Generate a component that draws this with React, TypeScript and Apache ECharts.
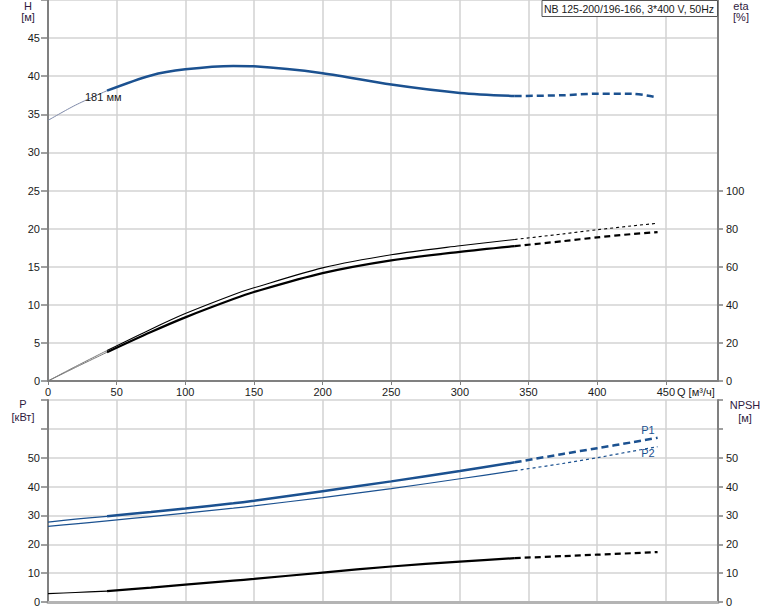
import React, { useEffect, useRef } from "react";
import * as echarts from "echarts";

// Flow points (m³/h)
const Q = [0, 20, 43, 75, 100, 135, 150, 200, 250, 300, 340, 375, 400, 425, 444];
// Head H [m]
const H = [34.2, 36.2, 38.1, 40.1, 40.9, 41.35, 41.3, 40.4, 38.9, 37.8, 37.4, 37.5, 37.7, 37.7, 37.2];
// Efficiency curves [%]
const ETA_UPPER = [0, 7.6, 16.0, 27.2, 35.4, 45.3, 48.9, 59.4, 66.3, 71.0, 74.3, 77.2, 79.4, 81.4, 82.8];
const ETA_LOWER = [0, 7.1, 15.1, 25.7, 33.4, 43.0, 46.7, 56.6, 63.3, 67.8, 70.8, 73.4, 75.4, 77.1, 78.2];
// Power [kW]
const P1 = [27.7, 28.7, 29.7, 31.2, 32.4, 34.2, 35.1, 38.4, 41.8, 45.4, 48.4, 51.3, 53.3, 55.3, 56.9];
const P2 = [26.2, 27.1, 28.1, 29.6, 30.8, 32.5, 33.3, 36.2, 39.3, 42.7, 45.5, 48.0, 50.0, 52.2, 53.8];
// NPSH [m]
const NPSH = [2.9, 3.3, 3.8, 5.0, 6.0, 7.4, 8.0, 10.2, 12.3, 14.0, 15.2, 15.9, 16.4, 16.9, 17.3];

const Q_TICKS = [0, 50, 100, 150, 200, 250, 300, 350, 400, 450];
const ETA_TICKS = [0, 20, 40, 60, 80, 100];
const TITLE = "NB 125-200/196-166, 3*400 V, 50Hz";
const RANGE_START = 43;
const RANGE_END = 340;

const FONT = '"Liberation Sans", Arial, sans-serif';
const BLUE = "#1b5190";

function seg(vals: number[], from: number, to: number) {
  const out: number[][] = [];
  for (let i = 0; i < Q.length; i++) {
    if (Q[i] >= from && Q[i] <= to) out.push([Q[i], vals[i]]);
  }
  return out;
}

function curve(
  name: string,
  vals: number[],
  xAxisIndex: number,
  yAxisIndex: number,
  color: string,
  width: number,
  dash: number[],
  thinColor: string,
  thinWidth: number
) {
  const base = {
    type: "line",
    xAxisIndex,
    yAxisIndex,
    showSymbol: false,
    symbol: "none",
    smooth: 0.3,
    silent: true,
    z: 5,
  };
  return [
    { ...base, name: name + "-start", data: seg(vals, 0, RANGE_START), lineStyle: { color: thinColor, width: thinWidth } },
    { ...base, name, data: seg(vals, RANGE_START, RANGE_END), lineStyle: { color, width } },
    { ...base, name: name + "-ext", data: seg(vals, RANGE_END, 1000), lineStyle: { color, width, type: dash } },
  ];
}

export default function App() {
  const ref = useRef<HTMLDivElement>(null);
  useEffect(() => {
    if (!ref.current) return;
    const chart = echarts.init(ref.current, null, { renderer: "svg" });
    const tickLabel = { color: "#1a1a1a", fontSize: 11, fontFamily: FONT };
    const gridLineH = { show: true, lineStyle: { color: "#dedede", width: 2 } };
    const gridLineV = { show: true, lineStyle: { color: "#d2d2d2", width: 1.5 } };
    const axisLine = { show: true, lineStyle: { color: "#808080", width: 2 } };
    const nameStyle = (text: string, x: number, y: number) => ({
      type: "text",
      x,
      y,
      style: { text, font: "11px " + FONT, fill: "#301a40", align: "center", verticalAlign: "middle" },
    });

    chart.setOption({
      animation: false,
      grid: [
        { left: 48, top: 0, width: 670, height: 381, show: true, borderColor: "#999", borderWidth: 1, backgroundColor: "transparent" },
        { left: 48, top: 400, width: 670, height: 202, show: true, borderColor: "#999", borderWidth: 1, backgroundColor: "transparent" },
      ],
      xAxis: [
        {
          type: "value",
          gridIndex: 0,
          min: 0,
          max: 488,
          interval: 50,
          axisLine,
          axisTick: { show: true, length: 4, lineStyle: { color: "#808080" }, customValues: Q_TICKS },
          axisLabel: {
            ...tickLabel,
            margin: 5,
            customValues: Q_TICKS,
            formatter: (v: number) => (Q_TICKS.indexOf(v) >= 0 ? String(v) : ""),
          },
          splitLine: gridLineV,
        },
        {
          type: "value",
          gridIndex: 1,
          min: 0,
          max: 488,
          interval: 50,
          axisLine: { show: true, lineStyle: { color: "#b4b4b4", width: 3 } },
          axisTick: { show: false },
          axisLabel: { show: false },
          splitLine: gridLineV,
        },
      ],
      yAxis: [
        {
          type: "value",
          gridIndex: 0,
          min: 0,
          max: 50,
          interval: 5,
          axisLine,
          axisTick: { show: true, length: 7, lineStyle: { color: "#808080", width: 1.5 } },
          axisLabel: { ...tickLabel, margin: 8, formatter: (v: number) => (v < 50 ? String(v) : "") },
          splitLine: gridLineH,
        },
        {
          type: "value",
          gridIndex: 0,
          position: "right",
          min: 0,
          max: 200,
          interval: 20,
          axisLine: { show: true, lineStyle: { color: "#808080", width: 2 } },
          axisTick: { show: true, length: 5, lineStyle: { color: "#808080", width: 1.5 }, customValues: ETA_TICKS },
          axisLabel: {
            ...tickLabel,
            margin: 8,
            customValues: ETA_TICKS,
            formatter: (v: number) => (v <= 100 ? String(v) : ""),
          },
          splitLine: { show: false },
        },
        {
          type: "value",
          gridIndex: 1,
          min: 0,
          max: 70,
          interval: 10,
          axisLine,
          axisTick: { show: true, length: 7, lineStyle: { color: "#808080", width: 1.5 } },
          axisLabel: { ...tickLabel, margin: 8, formatter: (v: number) => (v <= 50 ? String(v) : "") },
          splitLine: gridLineH,
        },
        {
          type: "value",
          gridIndex: 1,
          position: "right",
          min: 0,
          max: 70,
          interval: 10,
          axisLine: { show: true, lineStyle: { color: "#808080", width: 2 } },
          axisTick: { show: true, length: 5, lineStyle: { color: "#808080", width: 1.5 } },
          axisLabel: { ...tickLabel, margin: 8, formatter: (v: number) => (v <= 50 ? String(v) : "") },
          splitLine: { show: false },
        },
      ],
      series: [
        ...curve("H", H, 0, 0, BLUE, 2.5, [7, 4], "#7d88a8", 1),
        ...curve("eta1", ETA_UPPER, 0, 1, "#000", 1.1, [3, 3], "#777", 1),
        ...curve("eta2", ETA_LOWER, 0, 1, "#000", 2.2, [6, 4], "#777", 1),
        ...curve("P1", P1, 1, 2, BLUE, 2.5, [7, 4], BLUE, 1.3),
        ...curve("P2", P2, 1, 2, BLUE, 1.2, [3, 3], BLUE, 1.2),
        ...curve("NPSH", NPSH, 1, 3, "#000", 2.2, [6, 4], "#000", 1.2),
      ],
      graphic: [
        {
          type: "rect",
          shape: { x: 542, y: 0.5, width: 175.5, height: 16 },
          style: { fill: "#fff", stroke: "#555", lineWidth: 1 },
          z: 100,
        },
        {
          type: "text",
          x: 714,
          y: 9,
          z: 101,
          style: { text: TITLE, font: "10.5px " + FONT, fill: "#1a1a1a", align: "right", verticalAlign: "middle" },
        },
        nameStyle("H", 28, 6),
        nameStyle("[м]", 28, 17),
        nameStyle("eta", 741, 6),
        nameStyle("[%]", 741, 17),
        nameStyle("P", 23, 404),
        nameStyle("[кВт]", 23, 417),
        nameStyle("NPSH", 745, 405),
        nameStyle("[м]", 745, 418),
        {
          type: "text",
          x: 677,
          y: 392,
          style: { text: "Q [м³/ч]", font: "11px " + FONT, fill: "#1a1a1a", align: "left", verticalAlign: "middle" },
        },
        {
          type: "text",
          x: 85,
          y: 97,
          z: 50,
          style: { text: "181 мм", font: "11px " + FONT, fill: "#1a1a1a", align: "left", verticalAlign: "middle" },
        },
        {
          type: "text",
          x: 648,
          y: 430,
          z: 50,
          style: { text: "P1", font: "11px " + FONT, fill: BLUE, align: "center", verticalAlign: "middle" },
        },
        {
          type: "text",
          x: 648,
          y: 453,
          z: 50,
          style: { text: "P2", font: "11px " + FONT, fill: BLUE, align: "center", verticalAlign: "middle" },
        },
      ],
    });
    return () => chart.dispose();
  }, []);

  return <div ref={ref} style={{ position: "absolute", left: 0, top: 0, width: 774, height: 611, background: "#fff" }} />;
}
